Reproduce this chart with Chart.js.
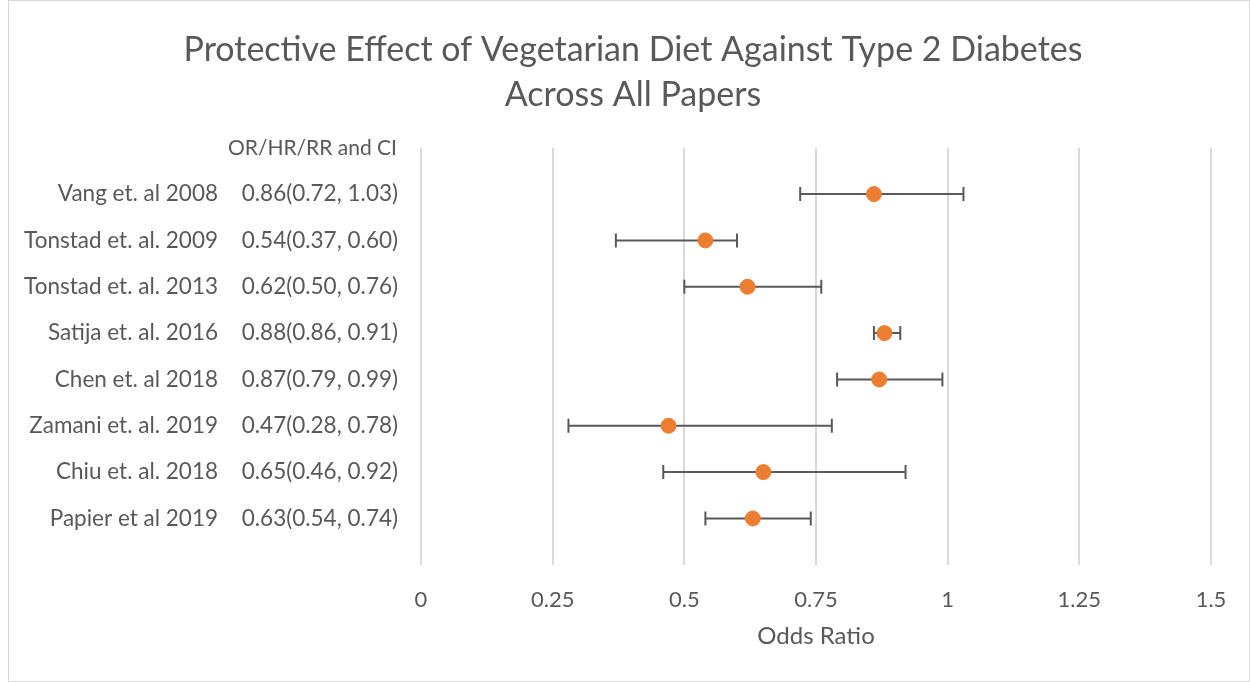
<!DOCTYPE html>
<html>
<head>
<meta charset="utf-8">
<script src="https://cdn.jsdelivr.net/npm/chart.js@4"></script>
<style>
    html, body { margin: 0; padding: 0; background: #fff; }
    #wrap {
        position: absolute; left: 8px; top: 0;
        width: 1240px; height: 680px;
        border: 1px solid #d9d9d9;
    }
    #main-chart { position: absolute; left: -9px; top: -1px; }
</style>
</head>
<body>
<div id="wrap"><canvas id="main-chart" width="1250" height="682"></canvas></div>
<script>
// study data (top to bottom)
const studies = [
    "Vang et. al 2008",
    "Tonstad et. al. 2009",
    "Tonstad et. al. 2013",
    "Satija et. al. 2016",
    "Chen et. al 2018",
    "Zamani et. al. 2019",
    "Chiu et. al. 2018",
    "Papier et al 2019",
];
const ratios = [0.86, 0.54, 0.62, 0.88, 0.87, 0.47, 0.65, 0.63];
const lowerCI = [0.72, 0.37, 0.50, 0.86, 0.79, 0.28, 0.46, 0.54];
const upperCI = [1.03, 0.60, 0.76, 0.91, 0.99, 0.78, 0.92, 0.74];
const ciLabels = [
    "0.86(0.72, 1.03)",
    "0.54(0.37, 0.60)",
    "0.62(0.50, 0.76)",
    "0.88(0.86, 0.91)",
    "0.87(0.79, 0.99)",
    "0.47(0.28, 0.78)",
    "0.65(0.46, 0.92)",
    "0.63(0.54, 0.74)",
];
const xTicks = [0, 0.25, 0.5, 0.75, 1, 1.25, 1.5];

const textColor = "#595959";
const fontFamily = "Lato, 'Open Sans', sans-serif";

// row position: first study at the top
const rowY = (i) => studies.length - i;

const points = ratios.map((r, i) => ({ x: r, y: rowY(i) }));

// whiskers with end caps, drawn under the points
const errorBars = {
    id: "errorBars",
    beforeDatasetsDraw(chart) {
        const { ctx, scales: { x, y } } = chart;
        ctx.save();
        ctx.strokeStyle = "#595959";
        ctx.lineWidth = 2;
        for (let i = 0; i < ratios.length; i++) {
            const py = y.getPixelForValue(rowY(i));
            const x0 = x.getPixelForValue(lowerCI[i]);
            const x1 = x.getPixelForValue(upperCI[i]);
            ctx.beginPath();
            ctx.moveTo(x0, py);
            ctx.lineTo(x1, py);
            ctx.moveTo(x0, py - 7);
            ctx.lineTo(x0, py + 7);
            ctx.moveTo(x1, py - 7);
            ctx.lineTo(x1, py + 7);
            ctx.stroke();
        }
        ctx.restore();
    },
};

// the two text columns left of the plot
const rowLabels = {
    id: "rowLabels",
    afterDraw(chart) {
        const { ctx, scales: { y } } = chart;
        ctx.save();
        ctx.fillStyle = textColor;
        ctx.textBaseline = "middle";
        ctx.textAlign = "right";
        ctx.font = "21px " + fontFamily;
        ctx.fillText("OR/HR/RR and CI", 397, y.getPixelForValue(studies.length + 1));
        ctx.font = "22.5px " + fontFamily;
        for (let i = 0; i < studies.length; i++) {
            const py = y.getPixelForValue(rowY(i));
            ctx.fillText(studies[i], 218, py);
            ctx.fillText(ciLabels[i], 398, py);
        }
        ctx.restore();
    },
};

const chartCanvas = document.getElementById("main-chart");

new Chart(chartCanvas, {
    type: "scatter",
    data: {
        datasets: [
            {
                label: "Odds Ratio",
                data: points,
                backgroundColor: "#ED7D31",
                borderColor: "#ED7D31",
                pointRadius: 7.5,
                pointHoverRadius: 7.5,
            },
        ],
    },
    options: {
        responsive: false,
        animation: false,
        layout: {
            padding: { left: 55, right: 39, top: 0, bottom: 31 },
        },
        scales: {
            x: {
                type: "linear",
                min: 0,
                max: 1.5,
                afterBuildTicks: (axis) => {
                    axis.ticks = xTicks.map((v) => ({ value: v }));
                },
                grid: {
                    color: "#d9d9d9",
                    lineWidth: 2,
                    drawTicks: false,
                },
                border: { display: false },
                ticks: {
                    color: textColor,
                    padding: 22,
                    font: { family: fontFamily, size: 22 },
                    callback: (v) => String(v),
                },
                title: {
                    display: true,
                    text: "Odds Ratio",
                    color: textColor,
                    font: { family: fontFamily, size: 24 },
                    padding: { top: -13, bottom: 0 },
                },
            },
            y: {
                type: "linear",
                min: 0,
                max: studies.length + 1,
                grid: { display: false },
                border: { display: false },
                ticks: { display: false },
                afterFit: (axis) => {
                    axis.width = 366;
                },
            },
        },
        plugins: {
            title: {
                display: true,
                text: [
                    "Protective Effect of Vegetarian Diet Against Type 2 Diabetes",
                    "Across All Papers",
                ],
                color: textColor,
                font: { family: fontFamily, size: 34, weight: "normal", lineHeight: 1.32 },
                padding: { top: 28, bottom: 30 },
            },
            legend: { display: false },
            tooltip: { enabled: false },
        },
    },
    plugins: [errorBars, rowLabels],
});
</script>
</body>
</html>
